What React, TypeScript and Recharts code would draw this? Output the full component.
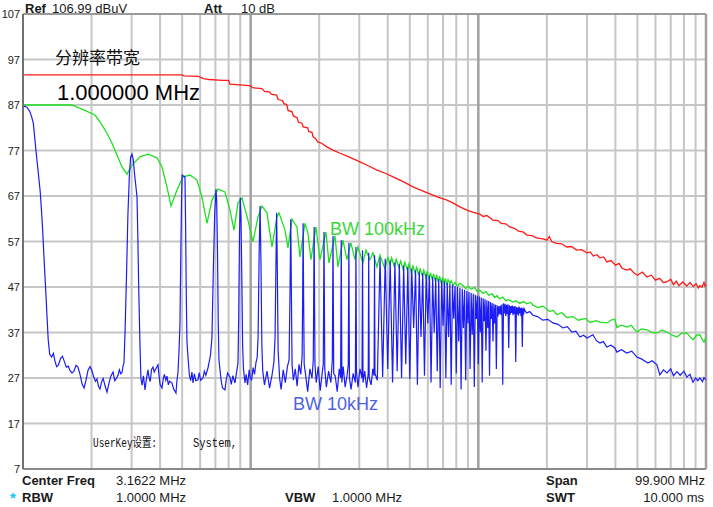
import React from 'react';
import { LineChart, Line, XAxis, YAxis, CartesianGrid, ReferenceLine } from 'recharts';

type P = [number, number];

// axis ticks (frequency in MHz, level in dBuV)
const Y_TICKS = [7, 17, 27, 37, 47, 57, 67, 77, 87, 97, 107];
const X_MINOR_TICKS = [0.2, 0.3, 0.4, 0.5, 0.6, 0.7, 0.8, 0.9, 2, 3, 4, 5, 6, 7, 8, 9, 20, 30, 40, 50, 60, 70, 80, 90];
const X_MAJOR_TICKS = [1, 10, 100];

// RBW 1 MHz trace
const RED_TRACE: P[] = [
  [0.1, 93.6], [0.3, 93.6], [0.5, 93.6], [0.51, 93.4], [0.59, 93.3], [0.62, 92.8], [0.66, 92.6], [0.75, 92.4], [0.8, 92.4],
  [0.81, 91.6], [0.96, 91.3], [1.0, 91.2], [1.02, 90.8], [1.12, 90.6], [1.15, 90.0], [1.21, 89.9], [1.23, 89.4],
  [1.3, 89.2], [1.32, 88.2], [1.38, 88.0], [1.4, 87.3], [1.44, 87.1], [1.46, 85.8], [1.52, 85.5], [1.54, 84.6],
  [1.6, 84.2], [1.62, 83.2], [1.68, 83.0], [1.7, 82.2], [1.78, 82.0], [1.8, 81.2], [1.86, 81.0], [1.88, 80.0],
  [1.93, 79.6], [1.97, 78.9], [2.05, 78.6], [2.16, 77.8], [2.3, 77.1], [2.47, 76.4], [2.7, 75.6], [3.02, 74.5],
  [3.3, 73.6], [3.59, 72.7], [3.9, 72.0], [4.22, 71.2], [4.7, 70.1], [5.16, 69.0], [5.9, 67.8], [6.78, 66.6],
  [7.2, 66.2], [7.73, 65.5], [8.3, 64.6], [8.91, 63.9], [9.5, 63.4], [10.16, 63.0], [10.5, 62.5], [10.9, 62.7],
  [11.59, 61.7], [12.2, 61.6], [12.6, 61.0], [13.2, 60.9], [13.76, 60.2], [14.4, 59.9], [15.0, 59.3], [15.7, 59.1],
  [16.35, 58.4], [17.2, 58.3], [18.0, 57.8], [19.2, 57.6], [20.01, 57.3], [20.5, 58.1], [21.0, 57.0], [22.0, 56.6],
  [23.2, 56.5], [24.49, 55.8], [25.7, 55.9], [27.0, 55.1], [28.4, 55.2], [29.99, 54.5], [31.0, 54.7], [32.0, 53.8],
  [33.2, 54.1], [34.2, 53.4], [35.5, 53.6], [36.7, 52.5], [38.3, 52.8], [40.0, 51.8], [41.5, 52.2], [42.8, 51.1],
  [44.94, 50.7], [46.5, 51.0], [48.0, 50.2], [50.0, 49.6], [52.5, 50.3], [55.0, 49.2], [57.5, 49.6], [60.0, 48.5],
  [62.5, 48.9], [65.0, 48.0], [67.36, 48.1], [70.0, 48.7], [72.0, 47.5], [74.0, 48.3], [76.0, 47.3], [79.0, 48.1],
  [82.45, 47.2], [85.0, 48.0], [88.0, 47.1], [90.5, 47.7], [92.5, 46.8], [94.0, 47.3], [96.0, 47.0], [98.0, 48.0],
  [99.0, 47.2], [100, 47.6],
];

// RBW 100 kHz trace
const GREEN_TRACE: P[] = [
  [0.1, 87], [0.1641, 87], [0.1835, 86], [0.2072, 84.8], [0.2179, 83.3], [0.2339, 80.8], [0.246, 78.6], [0.2587, 76],
  [0.2721, 73.4], [0.2862, 71.8], [0.301, 73.8], [0.3265, 75.6], [0.354, 76.2], [0.3878, 75.4], [0.4078, 73.4],
  [0.429, 69], [0.4467, 64.8], [0.4747, 68.3], [0.5043, 71.2], [0.5412, 71.6], [0.581, 70.5], [0.6111, 66.8],
  [0.6428, 61], [0.6761, 66.1], [0.7184, 68.5], [0.7712, 67.9], [0.8111, 63.9], [0.8447, 59.5], [0.8797, 65.5],
  [0.9158, 66.6], [0.973, 61.7], [1.0235, 56.9], [1.0767, 62.4], [1.121, 64.8], [1.1793, 63.3], [1.2403, 55.8],
  [1.3047, 62.4], [1.3314, 63.3], [1.4146, 59.5], [1.4583, 55.6], [1.5185, 61.9], [1.5972, 60.2], [1.6465, 53.6],
  [1.7318, 61], [1.7849, 58.8], [1.8398, 53], [1.9353, 60.2], [2.0152, 53], [2.1411, 59.1], [2.207, 52.3],
  [2.3456, 58.2], [2.4177, 51.4], [2.543, 57.3], [2.6476, 53], [2.7568, 56.7], [2.8711, 53], [2.9592, 55.8],
  [3.1131, 52.3], [3.2089, 55.1], [3.341, 53], [3.4437, 54.5], [3.5855, 51.4], [3.696, 54], [3.8887, 51],
  [4.0087, 53.6], [4.09, 51.8], [4.16, 53.4], [4.27, 51.5], [4.36, 53.1], [4.47, 51.4], [4.56, 52.7], [4.67, 50.9],
  [4.76, 52.4], [4.87, 50.8], [4.96, 52.1], [5.07, 50.3], [5.16, 51.6], [5.27, 50.1], [5.36, 51.3], [5.47, 49.6],
  [5.56, 51.1], [5.67, 49.4], [5.76, 50.7], [5.87, 49.2], [5.96, 50.5], [6.07, 48.6], [6.16, 50.1], [6.27, 48.7],
  [6.36, 49.9], [6.47, 48.3], [6.56, 49.7], [6.67, 48.1], [6.76, 49.4], [6.87, 47.8], [6.96, 49.1], [7.07, 47.9],
  [7.16, 48.9], [7.27, 47.4], [7.36, 48.6], [7.5, 47.8], [7.6, 48.4], [7.75, 47.3], [7.9, 48.0], [8.1, 47.2],
  [8.3, 47.8], [8.55, 47.4], [8.8, 46.6], [9.0, 47.2], [9.3, 46.5], [9.6, 46.9], [9.9, 46.0], [10.16, 46.3],
  [10.5, 45.6], [10.8, 46.0], [11.1, 45.2], [11.5, 45.5], [11.8, 44.7], [12.07, 45.1], [12.4, 44.4], [12.8, 44.8],
  [13.2, 44.0], [13.6, 44.2], [14.19, 43.7], [14.6, 44.0], [15.2, 43.4], [15.8, 43.8], [16.35, 43.3], [17.0, 43.6],
  [17.37, 43.0], [18.3, 42.5], [19.2, 42.8], [20.6, 41.6], [21.3, 41.9], [22.2, 40.9], [23.2, 41.4], [24.5, 40.3],
  [26.0, 40.5], [27.5, 39.7], [29.5, 40.1], [31.0, 39.2], [33.0, 39.6], [34.2, 39.3], [36.7, 39.1], [38.5, 39.8],
  [39.8, 39.9], [40.6, 38.1], [42.5, 38.6], [44.9, 38.2], [47.0, 38.6], [49.7, 37.1], [52.0, 37.8], [55.0, 37.6],
  [58.0, 37.0], [60.9, 36.9], [64.0, 37.5], [67.4, 37.1], [71.0, 36.4], [74.5, 36.0], [78.0, 36.8], [82.4, 36.9],
  [85.0, 36.1], [87.6, 35.4], [91.0, 36.4], [94.0, 36.5], [96.0, 35.6], [98.0, 34.9], [100, 36.0],
];

// RBW 10 kHz trace
const BLUE_TRACE: P[] = [
  [0.1, 86.8], [0.104, 86.5], [0.107, 85.6], [0.109, 84.5], [0.111, 83], [0.1125, 80], [0.114, 77], [0.1165, 72.5],
  [0.119, 68], [0.1205, 64], [0.122, 59.5], [0.1235, 54], [0.125, 49], [0.1265, 44], [0.1275, 40.5], [0.129, 35.5],
  [0.131, 32.2], [0.1335, 31.6], [0.136, 32.4], [0.138, 30.8], [0.1405, 29.5], [0.143, 29.8], [0.146, 31.2],
  [0.149, 31.8], [0.152, 30.6], [0.155, 29.4], [0.158, 29.6], [0.161, 28.6], [0.164, 28.1], [0.167, 28.4],
  [0.171, 29.8], [0.1744, 29.4], [0.178, 27.8], [0.182, 25.6], [0.1855, 24.8], [0.189, 26.4], [0.193, 28.7],
  [0.197, 29.5], [0.2009, 28.6], [0.2045, 27.2], [0.208, 26.3], [0.2113, 26.8], [0.2145, 25.2], [0.2179, 24.6],
  [0.2215, 26.2], [0.225, 26.9], [0.229, 25.4], [0.2339, 23.9], [0.238, 25.6], [0.243, 27.4], [0.2485, 28.3],
  [0.253, 26.4], [0.257, 26.9], [0.2614, 27.6], [0.265, 28.8], [0.269, 27.9], [0.2721, 28.2], [0.275, 29.6],
  [0.2777, 30.3], [0.281, 38], [0.285, 50], [0.289, 63], [0.2935, 72], [0.297, 75.5], [0.301, 76.2], [0.305, 75],
  [0.3095, 71.5], [0.3168, 66.8], [0.3195, 58], [0.322, 48], [0.3245, 40], [0.3265, 34], [0.3295, 27],
  [0.3332, 25.4], [0.338, 27.5], [0.3434, 24.4], [0.348, 26.6], [0.354, 28.8], [0.358, 27], [0.362, 26.2],
  [0.367, 28.9], [0.3724, 29.4], [0.377, 28.3], [0.383, 29], [0.3916, 29.9], [0.396, 27.5], [0.4, 25.6],
  [0.4078, 24.8], [0.413, 26.8], [0.418, 27.8], [0.424, 26.5], [0.429, 27.4], [0.435, 25.5], [0.44, 26.3],
  [0.4511, 25.9], [0.459, 24.6], [0.4698, 23.7], [0.4745, 26.5], [0.4794, 28.1], [0.4845, 33], [0.4892, 39],
  [0.4935, 55], [0.497, 66], [0.5, 71.6], [0.507, 71.4], [0.5146, 71.2], [0.518, 60], [0.5215, 45], [0.525, 35],
  [0.5305, 31.6], [0.538, 27.6], [0.545, 26.4], [0.552, 28.3], [0.558, 25.9], [0.566, 27.9], [0.574, 26.4],
  [0.5869, 26.6], [0.594, 28.2], [0.603, 26.5], [0.6173, 27], [0.626, 28.5], [0.635, 27.6], [0.6493, 29.2],
  [0.657, 30.5], [0.666, 32], [0.6761, 36], [0.685, 50], [0.695, 63], [0.704, 68.5], [0.709, 66], [0.715, 55],
  [0.72, 40], [0.7255, 31], [0.7332, 28.8], [0.742, 26.4], [0.752, 24.8], [0.7712, 24.4], [0.781, 26.6],
  [0.792, 28.1], [0.8111, 27.2], [0.822, 25.6], [0.835, 27.5], [0.8532, 25.9], [0.865, 27.9], [0.8797, 30.3],
  [0.886, 40], [0.893, 58], [0.9, 66.6], [0.907, 62], [0.915, 48], [0.922, 34], [0.93, 29], [0.9441, 25.9],
  [0.955, 27.8], [0.97, 25.5], [0.985, 28.8], [0.995, 27], [1.01, 26.6], [1.025, 29.3], [1.04, 27.8],
  [1.055, 30.4], [1.068, 31.5], [1.078, 36], [1.09, 55], [1.1, 64.8], [1.11, 52], [1.12, 34], [1.13, 28.5],
  [1.15, 25.5], [1.18, 28.5], [1.21, 24.8], [1.24, 27.5], [1.265, 30.5], [1.28, 36], [1.29, 50], [1.3, 63.3],
  [1.31, 50], [1.32, 33], [1.34, 27], [1.36, 24.5], [1.39, 28.8], [1.42, 26], [1.45, 29.5], [1.475, 31],
  [1.488, 45], [1.5, 61.9], [1.51, 45], [1.52, 30], [1.54, 26.5], [1.57, 29], [1.6, 25.2], [1.63, 30],
  [1.66, 27.8], [1.683, 32], [1.692, 45], [1.7, 61], [1.708, 45], [1.718, 30], [1.74, 28], [1.78, 24],
  [1.82, 29], [1.86, 27], [1.884, 31], [1.9, 60.2], [1.916, 30], [1.94, 26], [1.98, 29.5], [2.02, 24.2],
  [2.06, 28], [2.084, 30], [2.1, 59.1], [2.116, 29], [2.15, 25], [2.2, 28.5], [2.25, 26], [2.284, 31],
  [2.3, 58.2], [2.316, 28], [2.35, 27.5], [2.4, 24], [2.45, 29], [2.484, 27], [2.5, 57.3], [2.516, 26],
  [2.55, 29.5], [2.6, 25], [2.65, 27.5], [2.684, 30], [2.7, 56.7], [2.716, 27], [2.76, 24.5], [2.82, 28],
  [2.884, 26], [2.9, 55.8], [2.916, 28.5], [2.96, 25], [3.02, 29], [3.084, 27], [3.1, 55.1], [3.116, 26],
  [3.17, 28.5], [3.23, 24.8], [3.284, 28], [3.3, 54.5], [3.316, 27], [3.38, 25.5], [3.44, 29], [3.484, 27.5],
  [3.5, 54], [3.516, 28],
  [3.6, 26.5], [3.7, 53.5], [3.8, 27.2], [3.9, 53.2], [4.0, 29], [4.1, 52.8], [4.2, 26], [4.3, 52.4],
  [4.4, 28.5], [4.5, 52.0], [4.6, 27], [4.7, 51.7], [4.8, 30], [4.9, 51.4], [5.0, 26.8], [5.1, 51.0],
  [5.2, 38], [5.3, 50.7], [5.4, 25.5], [5.5, 50.4], [5.6, 36], [5.7, 50.1], [5.8, 27.5], [5.9, 49.8],
  [6.0, 39], [6.1, 49.5], [6.2, 26], [6.3, 49.2], [6.4, 37], [6.5, 49.0], [6.6, 28.5], [6.7, 48.7],
  [6.8, 24.8], [6.9, 48.4], [7.0, 38.5], [7.1, 48.2], [7.2, 27], [7.3, 47.9], [7.4, 36], [7.5, 47.7],
  [7.6, 25.5], [7.7, 47.5], [7.8, 40], [7.9, 47.2], [8.0, 28], [8.1, 47.0], [8.2, 35], [8.3, 46.8],
  [8.4, 24.5], [8.5, 46.6], [8.6, 38], [8.7, 46.4], [8.8, 26.5], [8.9, 46.1], [9.0, 39], [9.1, 45.9],
  [9.2, 29], [9.3, 45.7], [9.4, 36.5], [9.5, 45.5], [9.6, 25], [9.7, 45.3], [9.8, 40], [9.9, 45.1],
  [10.0, 30], [10.1, 44.9], [10.2, 37], [10.3, 44.7], [10.4, 26], [10.5, 44.5], [10.6, 39.5], [10.7, 44.3],
  [10.8, 33], [10.9, 44.1], [11.0, 38], [11.1, 43.9], [11.2, 27.5], [11.3, 43.7], [11.4, 40], [11.5, 43.5],
  [11.6, 35], [11.7, 43.3], [11.8, 39], [11.9, 43.1], [12.0, 29], [12.1, 43.0], [12.2, 40.5], [12.3, 42.8],
  [12.4, 41], [12.5, 42.9], [12.6, 40.8], [12.7, 43.2], [12.8, 25.5], [12.9, 43.4], [13.0, 41.2], [13.1, 43.3],
  [13.2, 40.6], [13.3, 43.1], [13.4, 41], [13.5, 43.2], [13.6, 33.6], [13.7, 43.0], [13.8, 40.9], [13.9, 42.8],
  [14.0, 41.3], [14.1, 42.9], [14.2, 40.8], [14.3, 42.7], [14.4, 41.1], [14.5, 42.8], [14.6, 30.5], [14.7, 42.6],
  [14.8, 41], [14.9, 42.5], [15.0, 40.7], [15.1, 42.7], [15.2, 41.2], [15.3, 42.4], [15.4, 40.6], [15.5, 42.5],
  [15.6, 33.8], [15.7, 42.3], [15.8, 40.9], [15.9, 42.2], [16.1, 41.6],
  [16.35, 41.3], [16.8, 41.6], [17.37, 40.8], [18.2, 40.5], [19.21, 39.7], [20.2, 39.9], [21.26, 39.1],
  [22.4, 38.8], [23.52, 38], [24.6, 38.3], [25.77, 37.1], [26.8, 37.3], [27.94, 36], [29.0, 36.4], [29.99, 35.8],
  [31.87, 36.5], [33.0, 35.2], [34.2, 34.7], [35.4, 35], [36.7, 33.8], [38.2, 34.2], [39.8, 33.6], [40.6, 32.7],
  [42.5, 33.2], [44.9, 32.5], [47.2, 32.9], [49.7, 31.6], [52.0, 31.2], [55.6, 30.3], [58.0, 30.8], [60.9, 29.9],
  [62.7, 27.7], [65.0, 28.8], [67.4, 28.1], [70.0, 29], [72.0, 27.5], [74.5, 28.4], [77.0, 27.6], [80.0, 28.5],
  [82.4, 27.2], [85.0, 27.8], [87.6, 26.1], [90.0, 27], [92.0, 26.4], [94.0, 27], [96.5, 26.2], [98.0, 27.1],
  [100, 26.6],
];

const toRows = (arr: P[]) => arr.map(([f, v]) => ({ f, v }));
const redRows = toRows(RED_TRACE);
const greenRows = toRows(GREEN_TRACE);
const blueRows = toRows(BLUE_TRACE);

const SANS = '"Liberation Sans", Arial, sans-serif';
const CJK = '"Noto Sans CJK SC", sans-serif';

const YTick = (props: any) => (
  <text x={20} y={props.y} dy={4} textAnchor="end" fontSize={11} fill="#222" fontFamily={SANS}>
    {props.payload.value}
  </text>
);

export default function App() {
  return (
    <div style={{ position: 'absolute', left: 0, top: 0, width: 713, height: 507, background: '#fff' }}>
      <LineChart width={713} height={507} margin={{ top: 14, right: 7, bottom: 38, left: 0 }}>
        <XAxis
          dataKey="f"
          type="number"
          scale="log"
          domain={[0.1, 100]}
          allowDataOverflow
          ticks={[...X_MINOR_TICKS, ...X_MAJOR_TICKS]}
          interval={0}
          height={0}
          tick={false}
          tickLine={false}
          axisLine={false}
        />
        <YAxis
          type="number"
          domain={[7, 107]}
          ticks={Y_TICKS}
          interval={0}
          width={23}
          tick={<YTick />}
          tickLine={false}
          axisLine={{ stroke: '#707070', strokeWidth: 2 }}
        />
        <CartesianGrid vertical={false} stroke="#c6c6c6" strokeWidth={2} />
        {X_MINOR_TICKS.map((x) => (
          <ReferenceLine key={`mn${x}`} x={x} stroke="#c6c6c6" strokeWidth={2} />
        ))}
        {X_MAJOR_TICKS.map((x) => (
          <ReferenceLine key={`mj${x}`} x={x} stroke="#a0a0a0" strokeWidth={2.5} />
        ))}
        <ReferenceLine y={107} stroke="#9a9a9a" strokeWidth={2} />
        <ReferenceLine y={7} stroke="#8a8a8a" strokeWidth={2} />
        <Line data={redRows} dataKey="v" type="linear" stroke="#ff1a1a" strokeWidth={1.3} dot={false} isAnimationActive={false} />
        <Line data={greenRows} dataKey="v" type="linear" stroke="#1fe01f" strokeWidth={1.3} dot={false} isAnimationActive={false} />
        <Line data={blueRows} dataKey="v" type="linear" stroke="#1c1cf5" strokeWidth={1.2} dot={false} isAnimationActive={false} />
      </LineChart>
      <svg width={713} height={507} style={{ position: 'absolute', left: 0, top: 0, pointerEvents: 'none' }}>
        <g fontFamily={SANS} fontSize={13} fill="#1a1a1a">
          <text x={25} y={12.5} fontWeight="bold">Ref</text>
          <text x={52} y={12.5}>106.99 dBuV</text>
          <text x={204} y={12.5} fontWeight="bold">Att</text>
          <text x={241} y={12.5}>10 dB</text>

          <text x={22} y={485} fontWeight="bold">Center Freq</text>
          <text x={116} y={485}>3.1622 MHz</text>
          <text x={546} y={485} fontWeight="bold">Span</text>
          <text x={705} y={485} textAnchor="end">99.900 MHz</text>

          <text x={10} y={503} fill="#10c8f0" fontWeight="bold" fontSize={15}>*</text>
          <text x={22} y={502} fontWeight="bold">RBW</text>
          <text x={116} y={502}>1.0000 MHz</text>
          <text x={285} y={502} fontWeight="bold">VBW</text>
          <text x={332} y={502}>1.0000 MHz</text>
          <text x={546} y={502} fontWeight="bold">SWT</text>
          <text x={704} y={502} textAnchor="end">10.000 ms</text>
        </g>
        <text x={55} y={64} fontFamily={CJK} fontSize={17} fill="#111">分辨率带宽</text>
        <text x={57} y={100} fontFamily={SANS} fontSize={22} fill="#000">1.000000 MHz</text>
        <text x={330} y={235} fontFamily={SANS} fontSize={18} fill="#3ad83a">BW 100kHz</text>
        <text x={293} y={410} fontFamily={SANS} fontSize={18} fill="#4f5fe6">BW 10kHz</text>
        <g fontFamily={'"Liberation Mono", "Noto Sans CJK SC", monospace'} fontSize={12} fill="#111">
          <text x={93} y={447} textLength={64} lengthAdjust="spacingAndGlyphs">UserKey设置:</text>
          <text x={193} y={447} textLength={44} lengthAdjust="spacingAndGlyphs">System,</text>
        </g>
      </svg>
    </div>
  );
}
